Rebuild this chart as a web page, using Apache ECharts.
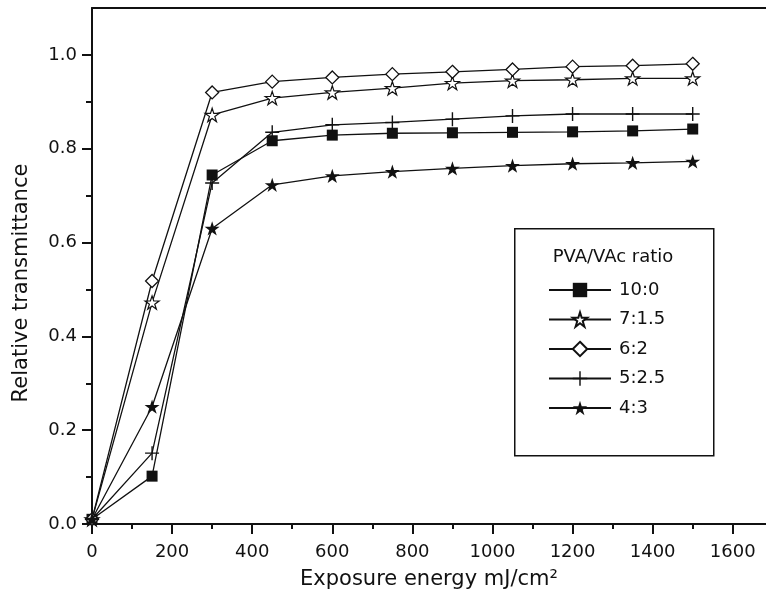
<!DOCTYPE html>
<html><head><meta charset="utf-8">
<script src="https://cdn.jsdelivr.net/npm/echarts@6/dist/echarts.min.js"></script>
<style>html,body{margin:0;padding:0;background:#fff}#c{width:766px;height:596px}</style>
</head><body><div id="c"></div>
<script>
// ---- data ----
const exposure = [0, 150, 300, 450, 600, 750, 900, 1050, 1200, 1350, 1500];
const ratio10_0 = [0.01, 0.102, 0.744, 0.817, 0.829, 0.833, 0.834, 0.835, 0.836, 0.838, 0.842];
const ratio7_15 = [0.01, 0.472, 0.872, 0.908, 0.920, 0.929, 0.940, 0.945, 0.947, 0.950, 0.950];
const ratio6_2  = [0.01, 0.518, 0.920, 0.943, 0.952, 0.959, 0.964, 0.969, 0.975, 0.977, 0.981];
const ratio5_25 = [0.01, 0.151, 0.727, 0.835, 0.851, 0.856, 0.863, 0.870, 0.874, 0.874, 0.874];
const ratio4_3  = [0.01, 0.250, 0.630, 0.723, 0.742, 0.751, 0.758, 0.764, 0.768, 0.770, 0.773];
const seriesNames = ['10:0', '7:1.5', '6:2', '5:2.5', '4:3'];
const xMajorTicks = [0, 200, 400, 600, 800, 1000, 1200, 1400, 1600];
const xMinorTicks = [100, 300, 500, 700, 900, 1100, 1300, 1500];
const yMajorTicks = [0.0, 0.2, 0.4, 0.6, 0.8, 1.0];
const yMinorTicks = [0.1, 0.3, 0.5, 0.7, 0.9];
const xTitle = 'Exposure energy mJ/cm²';
const yTitle = 'Relative transmittance';
const legendTitle = 'PVA/VAc ratio';

// ---- styling ----
const INK = '#111';
const FONT = 'DejaVu Sans';
const STAR = 'path://M100,0 L122.45,69.1 L195.1,69.1 L136.3,111.8 L158.8,180.9 L100,138.2 L41.2,180.9 L63.7,111.8 L4.9,69.1 L77.55,69.1 Z';
const PLUS = 'path://M9,0 L11,0 L11,9 L20,9 L20,11 L11,11 L11,20 L9,20 L9,11 L0,11 L0,9 L9,9 Z';
const X_MAX = 1683, Y_MAX = 1.1;

const seriesValues = [ratio10_0, ratio7_15, ratio6_2, ratio5_25, ratio4_3];
const symbolDefs = [
  {symbol: 'rect', size: 11, fill: INK, bw: 0},
  {symbol: STAR, size: 14, fill: '#fff', bw: 1.2},
  {symbol: 'diamond', size: 13, fill: '#fff', bw: 1.3},
  {symbol: PLUS, size: 14, fill: INK, bw: 0},
  {symbol: STAR, size: 15, fill: INK, bw: 0}
];

const series = seriesNames.map((name, i) => ({
  name: name,
  type: 'line',
  xAxisIndex: 0, yAxisIndex: 0,
  data: exposure.map((x, j) => [x, seriesValues[i][j]]),
  symbol: symbolDefs[i].symbol,
  symbolSize: symbolDefs[i].size,
  symbolKeepAspect: true,
  showAllSymbol: true,
  lineStyle: {color: INK, width: 1.3},
  itemStyle: {color: symbolDefs[i].fill, borderColor: INK, borderWidth: symbolDefs[i].bw, opacity: 1},
  emphasis: {disabled: true},
  animation: false,
  z: 3 + i
}));

const chart = echarts.init(document.getElementById('c'), null, {renderer: 'canvas'});
chart.setOption({
  backgroundColor: '#fff',
  animation: false,
  grid: {left: 92, top: 8, right: 0, bottom: 72, containLabel: false, outerBoundsMode: 'none'},
  xAxis: [
    {
      type: 'value', position: 'bottom', min: 0, max: X_MAX,
      axisLine: {show: true, onZero: false, lineStyle: {color: INK, width: 2}},
      axisTick: {show: true, inside: false, length: 10, customValues: xMajorTicks, lineStyle: {color: INK, width: 2}},
      axisLabel: {show: true, customValues: xMajorTicks, margin: 19, fontSize: 18, fontFamily: FONT, color: INK,
                  formatter: v => String(v)},
      splitLine: {show: false},
      name: xTitle, nameLocation: 'middle', nameGap: 45,
      nameTextStyle: {fontSize: 21, fontFamily: FONT, color: INK}
    },
    {
      type: 'value', position: 'bottom', min: 0, max: X_MAX,
      axisLine: {show: false, onZero: false},
      axisTick: {show: true, inside: false, length: 5, customValues: xMinorTicks, lineStyle: {color: INK, width: 2}},
      axisLabel: {show: false}, splitLine: {show: false}
    },
    {
      type: 'value', position: 'top', min: 0, max: X_MAX,
      axisLine: {show: true, onZero: false, lineStyle: {color: INK, width: 2}},
      axisTick: {show: false}, axisLabel: {show: false}, splitLine: {show: false}
    }
  ],
  yAxis: [
    {
      type: 'value', position: 'left', min: 0, max: Y_MAX,
      axisLine: {show: true, onZero: false, lineStyle: {color: INK, width: 2}},
      axisTick: {show: true, inside: false, length: 10, customValues: yMajorTicks, lineStyle: {color: INK, width: 2}},
      axisLabel: {show: true, customValues: yMajorTicks, margin: 15, fontSize: 18, fontFamily: FONT, color: INK,
                  formatter: v => Number(v).toFixed(1)},
      splitLine: {show: false}
    },
    {
      type: 'value', position: 'left', min: 0, max: Y_MAX,
      axisLine: {show: false, onZero: false},
      axisTick: {show: true, inside: false, length: 6, customValues: yMinorTicks, lineStyle: {color: INK, width: 2}},
      axisLabel: {show: false}, splitLine: {show: false}
    }
  ],
  legend: {
    show: true, orient: 'vertical', left: 543, top: 276,
    data: seriesNames,
    itemWidth: 62, itemHeight: 18, itemGap: 11.5,
    textStyle: {fontSize: 18, fontFamily: FONT, color: INK, padding: [0, 0, 0, 3]},
    inactiveColor: INK
  },
  graphic: [
    {type: 'rect', left: 514, top: 228, z: 10,
     shape: {width: 199, height: 227},
     style: {fill: 'rgba(0,0,0,0)', stroke: INK, lineWidth: 1.5}},
    {type: 'text', x: 613, y: 257, z: 10,
     style: {text: legendTitle, fontSize: 18, fontFamily: FONT, fill: INK, align: 'center', verticalAlign: 'middle'}},
    {type: 'text', x: 22, y: 283, rotation: Math.PI / 2, z: 10,
     style: {text: yTitle, fontSize: 21, fontFamily: FONT, fill: INK, align: 'center', verticalAlign: 'middle'}}
  ],
  series: series
});
</script></body></html>
